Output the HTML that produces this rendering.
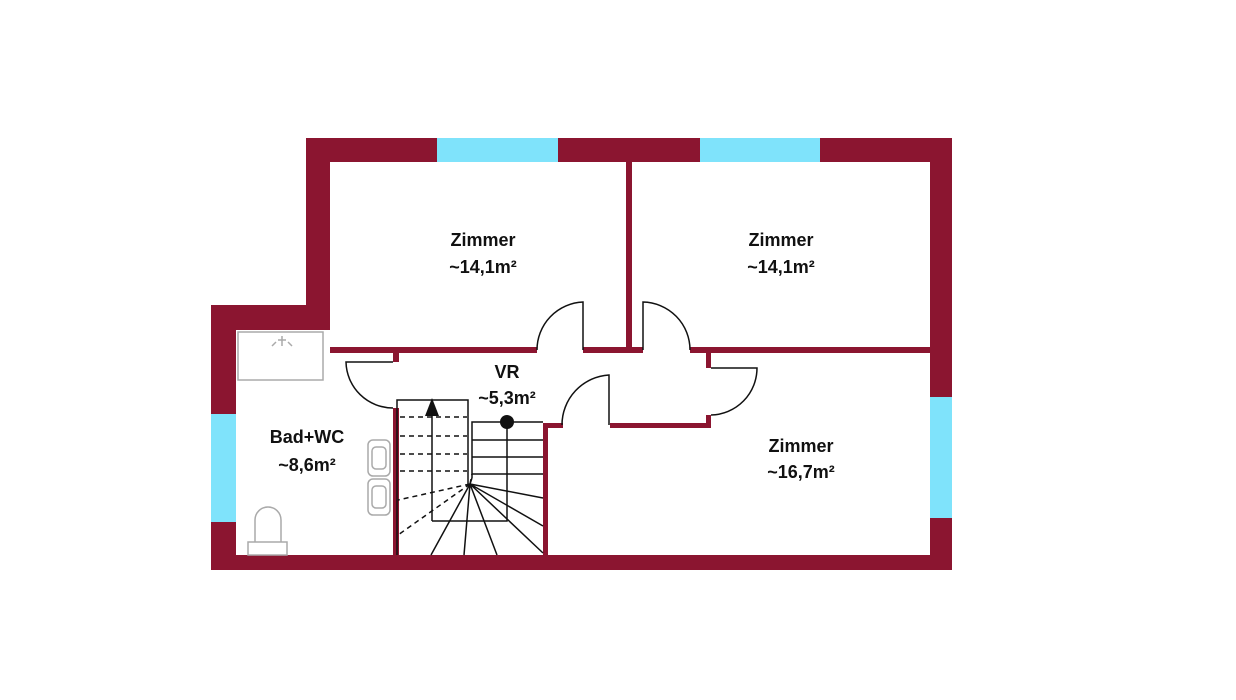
<!DOCTYPE html>
<html><head><meta charset="utf-8"><style>
html,body{margin:0;padding:0;background:#fff;width:1236px;height:700px;overflow:hidden}
text{font-family:"Liberation Sans",sans-serif;font-weight:bold;font-size:18px;fill:#111;text-anchor:middle}
</style></head><body>
<svg width="1236" height="700" viewBox="0 0 1236 700" xmlns="http://www.w3.org/2000/svg">
<g fill="#8b1530">
<rect x="306" y="138" width="646" height="24"/>
<rect x="306" y="138" width="24" height="192"/>
<rect x="211" y="305" width="119" height="25"/>
<rect x="211" y="305" width="25" height="265"/>
<rect x="211" y="555" width="741" height="15"/>
<rect x="930" y="138" width="22" height="432"/>
<rect x="626" y="162" width="6" height="190"/>
<rect x="330" y="347" width="207" height="6"/>
<rect x="583" y="347" width="60" height="6"/>
<rect x="690" y="347" width="240" height="6"/>
<rect x="706" y="347" width="5" height="21"/>
<rect x="706" y="415" width="5" height="13"/>
<rect x="610" y="423" width="101" height="5"/>
<rect x="543" y="423" width="20" height="5"/>
<rect x="543" y="423" width="5" height="132"/>
<rect x="393" y="350" width="6" height="12"/>
<rect x="393" y="408" width="6" height="147"/>
</g>
<g fill="#7fe3fb">
<rect x="437" y="138" width="121" height="24"/>
<rect x="700" y="138" width="120" height="24"/>
<rect x="930" y="397" width="22" height="121"/>
<rect x="211" y="414" width="25" height="108"/>
</g>
<g fill="none" stroke="#111" stroke-width="1.5">
<path d="M583 350 V302 A48 48 0 0 0 537 350"/>
<path d="M643 350 V302 A48 48 0 0 1 690 350"/>
<path d="M711 368 H757 A47 47 0 0 1 711 415"/>
<path d="M609 425 V375 A50 50 0 0 0 562 425"/>
<path d="M393 362 H346 A47 47 0 0 0 393 408"/>
<path d="M397 555 V400 H468 V485"/>
<path d="M432 521 V404 M432 521 H507 V422 M472 478 V422 H543"/>
<path d="M472 440 H543 M472 457 H543 M472 474 H543"/>
<path d="M470 484 L431 555 M470 484 L464 555 M470 484 L497 555 M470 484 L543 553 M470 484 L543 526 M470 484 L543 498 M470 484 L472 478"/>
<path stroke-dasharray="5 4" d="M400 417 H467 M400 436 H467 M400 454 H467 M400 471 H467 M470 484 L398 500 M470 484 L398 535 M470 484 L472 474"/>
</g>
<polygon points="432,398 425,416 439,416" fill="#111"/>
<circle cx="507" cy="422" r="7" fill="#111"/>
<g fill="none" stroke="#aaa" stroke-width="1.5">
<rect x="238" y="332" width="85" height="48"/>
<path d="M282 336 v10 M276 342 l-4 4 M288 342 l4 4 M278 340 h8"/>
<rect x="368" y="440" width="22" height="36" rx="5"/>
<rect x="368" y="479" width="22" height="36" rx="5"/>
<rect x="372" y="447" width="14" height="22" rx="4"/>
<rect x="372" y="486" width="14" height="22" rx="4"/>
<rect x="248" y="542" width="39" height="13"/>
<path d="M255 542 V520 A13 13 0 0 1 281 520 V542"/>
</g>
<text x="483" y="246">Zimmer</text><text x="483" y="273">~14,1m²</text>
<text x="781" y="246">Zimmer</text><text x="781" y="273">~14,1m²</text>
<text x="801" y="452">Zimmer</text><text x="801" y="478">~16,7m²</text>
<text x="507" y="378">VR</text><text x="507" y="404">~5,3m²</text>
<text x="307" y="443">Bad+WC</text><text x="307" y="471">~8,6m²</text>
</svg>
</body></html>
